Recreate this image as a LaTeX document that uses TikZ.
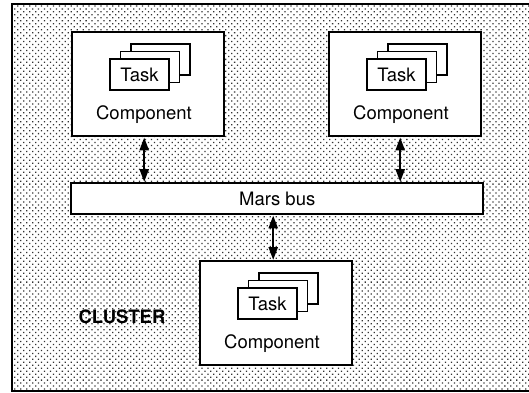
\documentclass[tikz,border=0pt]{standalone}
\usepackage{fontspec}
\setmainfont{TeX Gyre Heros}
\usetikzlibrary{patterns.meta,arrows.meta}
\begin{document}
\begin{tikzpicture}[x=1pt,y=-1pt,
  txt/.style={font=\fontsize{18.5}{20}\selectfont},
  comp/.style={draw, line width=2.4pt, fill=white, minimum width=152pt,
    minimum height=104pt, anchor=north west, inner sep=0pt},
  task/.style={draw, line width=1.8pt, fill=white, minimum width=59pt,
    minimum height=31pt, anchor=north west, inner sep=0pt, txt},
  lbl/.style={inner sep=0pt, txt},
  link/.style={line width=2.4pt,
    {Triangle[length=13pt,width=9pt]}-{Triangle[length=13pt,width=9pt]}}]

% page and dotted cluster area
\useasboundingbox (0,0) rectangle (529,392);
\fill[white] (0,0) rectangle (529,392);
\fill[pattern={Dots[distance=4.2pt,radius=0.9pt,angle=45]}, pattern color=black!80]
  (12,4) rectangle (531,391);
\draw[line width=2.4pt] (12,4) rectangle (531,391);

% a component box holding a stack of three task cards
\newcommand\component[3]{%
  \node[comp] (#1) at (#2,#3) {};
  \node[task] (#1t3) at (#2+59,#3+12) {};
  \node[task] (#1t2) at (#2+48.5,#3+19.5) {};
  \node[task] (#1t1) at (#2+38,#3+27) {Task};
  \node[lbl] (#1l) at (#2+73,#3+84) {Component};
}

\component{cA}{71}{31}
\component{cB}{328}{31}
\component{cC}{199}{260}

% the bus
\node[draw, line width=2.4pt, fill=white, minimum width=412pt, minimum height=31pt,
  anchor=north west, inner sep=0pt, txt] (bus) at (70,182) {Mars bus};

% connections to the bus
\draw[link] ([xshift=-4pt]cA.south) -- ([xshift=-4pt]cA.south |- bus.north);
\draw[link] ([xshift=-5pt]cB.south) -- ([xshift=-5pt]cB.south |- bus.north);
\draw[link] ([xshift=-3pt]cC.north) -- ([xshift=-3pt]cC.north |- bus.south);

\node[lbl, font=\bfseries\fontsize{18.5}{20}\selectfont] (cl) at (122,317) {CLUSTER};
\end{tikzpicture}
\end{document}
